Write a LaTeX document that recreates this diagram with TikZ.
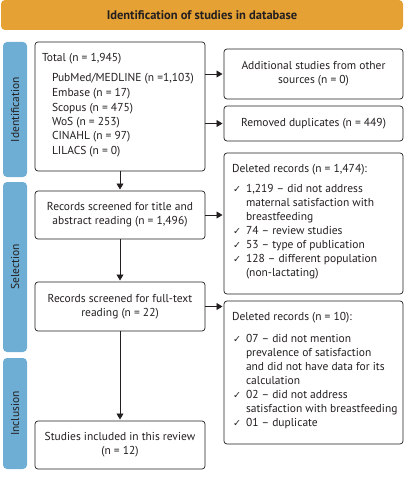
\documentclass[tikz,border=0pt]{standalone}
\usepackage{fontspec}
\setmainfont{PT Sans}
\newfontfamily\chkfont{DejaVu Sans}
\usetikzlibrary{arrows.meta}
\definecolor{hdr}{RGB}{229,161,52}
\definecolor{side}{RGB}{110,174,212}
\definecolor{ink}{RGB}{35,31,32}
\begin{document}
\begin{tikzpicture}[x=1pt,y=-1pt,
  every node/.style={inner sep=0pt,outer sep=0pt,text=ink,font=\fontsize{11.5}{14}\selectfont},
  box/.style={draw=ink,line width=0.7pt,rounded corners=3pt},
  sidebar/.style={fill=side,draw=none,rounded corners=4pt},
  ln/.style={anchor=base west},
  arr/.style={draw=ink,line width=0.7pt,-{Triangle[length=6pt,width=7pt]},shorten >=1.5pt},
  chk/.style={anchor=base west,font=\chkfont\fontsize{9.5}{10}\selectfont}
]
\useasboundingbox (0,0) rectangle (404,481);
% header
\node[fill=hdr,rounded corners=4pt,minimum width=402pt,minimum height=30pt,font=\bfseries\fontsize{12.5}{14}\selectfont] (hdr) at (202,15) {Identification of studies in database};
% sidebars
\node[sidebar,minimum width=24pt,minimum height=135pt] (sid) at (15,109.5) {};
\node[rotate=90] (sidt) at (sid.center) {Identification};
\node[sidebar,minimum width=24pt,minimum height=170pt] (sse) at (15,267) {};
\node[rotate=90] (sset) at (sse.center) {Selection};
\node[sidebar,minimum width=24pt,minimum height=111pt] (sin) at (15,413.5) {};
\node[rotate=90] (sint) at (sin.center) {Inclusion};
% left boxes
\node[box,minimum width=170pt,minimum height=129pt] (tot) at (120,106.5) {};
\node[ln] (t0) at (42,62) {Total (n = 1,945)};
\node[ln] (t1) at (52,82) {PubMed/MEDLINE (n =1,103)};
\node[ln] (t2) at (52,97) {Embase (n = 17)};
\node[ln] (t3) at (52,112) {Scopus (n = 475)};
\node[ln] (t4) at (52,126) {WoS (n = 253)};
\node[ln] (t5) at (52,140) {CINAHL (n = 97)};
\node[ln] (t6) at (52,154) {LILACS (n = 0)};
\node[box,minimum width=170pt,minimum height=48pt,align=center] (r1) at (120,215) {Records screened for title and\\abstract reading (n = 1,496)};
\node[box,minimum width=170pt,minimum height=49pt,align=center] (r2) at (120,306.5) {Records screened for full-text\\reading (n = 22)};
\node[box,minimum width=170pt,minimum height=48pt,align=center] (r3) at (120,445) {Studies included in this review\\(n = 12)};
% right boxes
\node[box,minimum width=179pt,minimum height=50pt,align=center] (add) at (313.5,74) {Additional studies from other\\sources (n = 0)};
\node[box,minimum width=179pt,minimum height=35pt] (dup) at (313.5,123.5) {Removed duplicates (n = 449)};
\node[box,minimum width=179pt,minimum height=141pt] (del1) at (313.5,223.5) {};
\node[ln] (a0) at (232,172) {Deleted records (n = 1,474):};
\node[chk] (ac1) at (233,192) {✓};
\node[ln] (a1) at (246,192) {1,219 – did not address};
\node[ln] (a2) at (246,206) {maternal satisfaction with};
\node[ln] (a3) at (246,220) {breastfeeding};
\node[chk] (ac4) at (233,234) {✓};
\node[ln] (a4) at (246,234) {74 – review studies};
\node[chk] (ac5) at (233,248) {✓};
\node[ln] (a5) at (246,248) {53 – type of publication};
\node[chk] (ac6) at (233,262) {✓};
\node[ln] (a6) at (246,262) {128 – different population};
\node[ln] (a7) at (246,276) {(non-lactating)};
\node[box,minimum width=179pt,minimum height=143pt] (del2) at (313.5,372.5) {};
\node[ln] (b0) at (232,320) {Deleted records (n = 10):};
\node[chk] (bc1) at (233,342) {✓};
\node[ln] (b1) at (246,342) {07 – did not mention};
\node[ln] (b2) at (246,356) {prevalence of satisfaction};
\node[ln] (b3) at (246,370) {and did not have data for its};
\node[ln] (b4) at (246,384) {calculation};
\node[chk] (bc5) at (233,398) {✓};
\node[ln] (b5) at (246,398) {02 – did not address};
\node[ln] (b6) at (246,412) {satisfaction with breastfeeding};
\node[chk] (bc7) at (233,426) {✓};
\node[ln] (b7) at (246,426) {01 – duplicate};
% arrows
\draw[arr] (tot.east |- add.center) -- (add.west);
\draw[arr] (tot.east |- dup.center) -- (dup.west);
\draw[arr] (tot.south) -- (r1.north);
\draw[arr] (r1.east) -- (r1.east -| del1.west);
\draw[arr] (r1.south) -- (r2.north);
\draw[arr] (r2.east) -- (r2.east -| del2.west);
\draw[arr] (r2.south) -- (r3.north);
\end{tikzpicture}
\end{document}
